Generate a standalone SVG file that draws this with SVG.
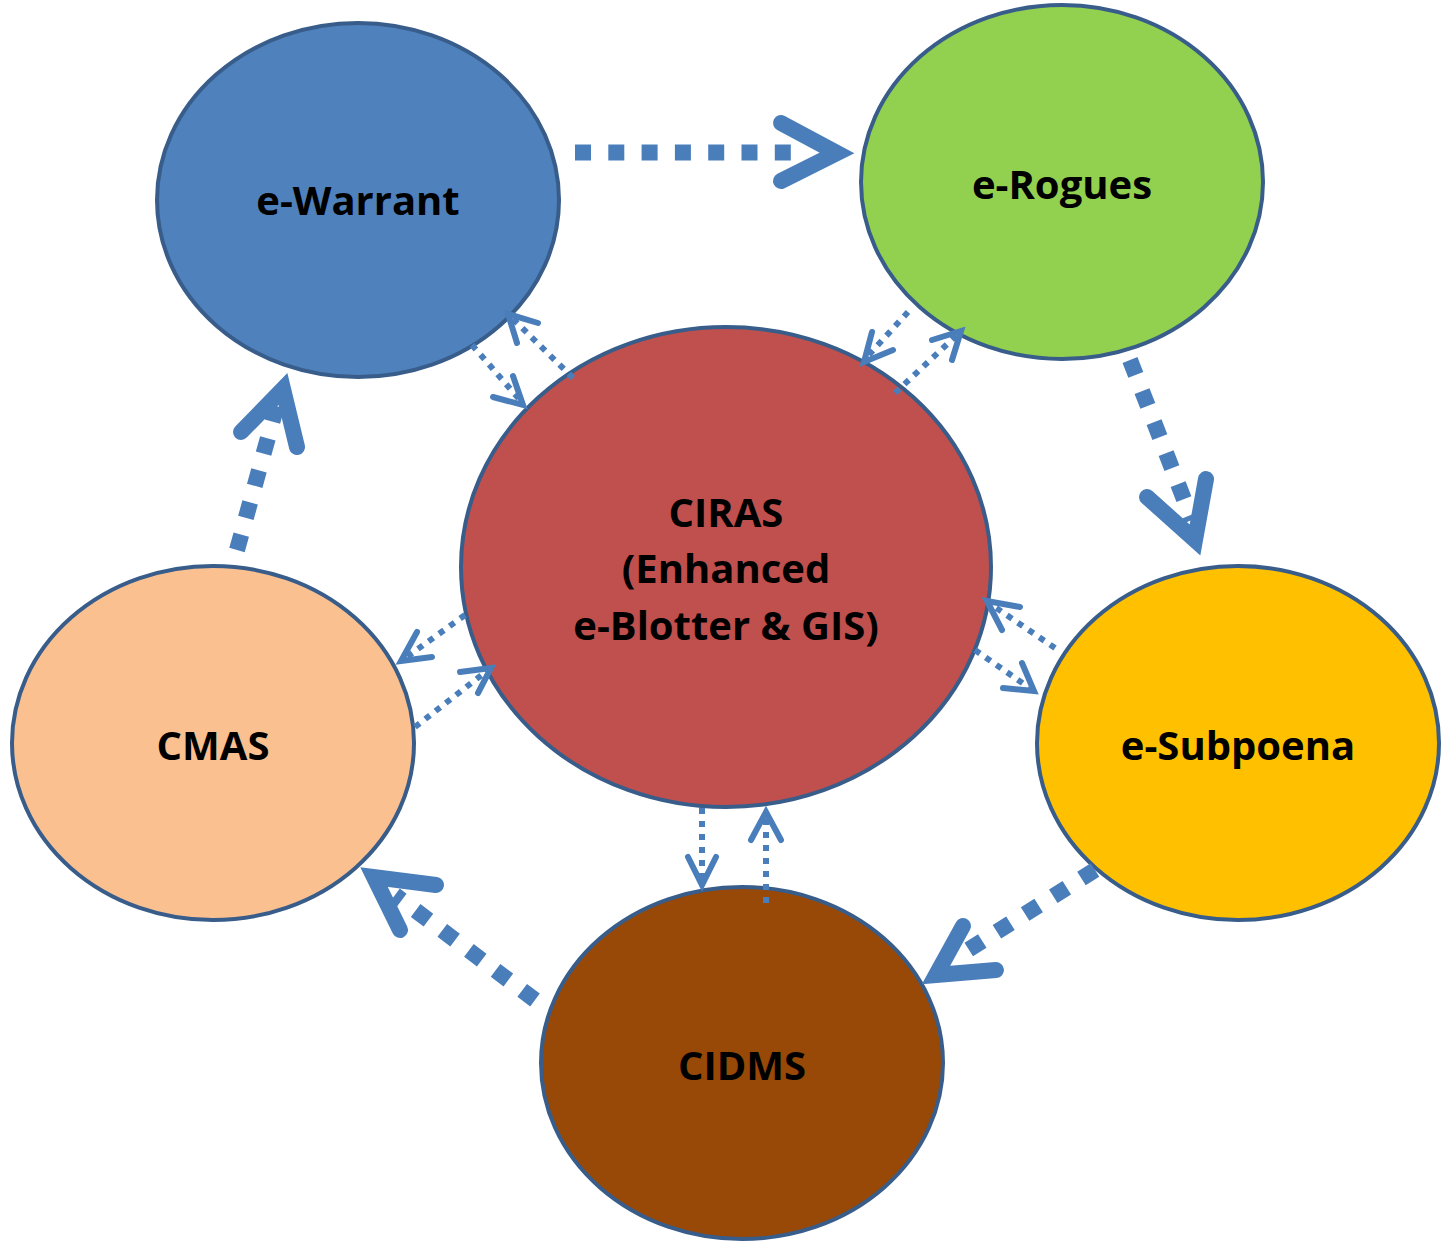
<svg xmlns="http://www.w3.org/2000/svg" width="1441" height="1241" viewBox="0 0 1441 1241">
<style>
.node{stroke:#385D8A;stroke-width:4}
.lbl{font-family:"Open Sans","Noto Sans",sans-serif;font-weight:bold;font-size:40px;fill:#000;text-anchor:middle}
.big{fill:none;stroke:#4A7EBB;stroke-width:16;stroke-dasharray:16 17.3}
.bighead{fill:none;stroke:#4A7EBB;stroke-width:16;stroke-linecap:round;stroke-linejoin:miter}
.sm{fill:none;stroke:#4A7EBB;stroke-width:6;stroke-dasharray:6 7}
.smhead{fill:none;stroke:#4A7EBB;stroke-width:6;stroke-linecap:round;stroke-linejoin:miter}
</style>
<rect width="1441" height="1241" fill="#fff"/>
<g id="e-warrant"><ellipse class="node" cx="358" cy="200" rx="201" ry="177" fill="#4F81BD"/><text class="lbl" x="358" y="215">e-Warrant</text></g>
<g id="e-rogues"><ellipse class="node" cx="1062" cy="182" rx="201" ry="177" fill="#92D050"/><text class="lbl" x="1062" y="199">e-Rogues</text></g>
<g id="ciras"><ellipse class="node" cx="726" cy="567" rx="265" ry="240" fill="#C0504D"/><text class="lbl" x="726" y="527">CIRAS</text><text class="lbl" x="726" y="583">(Enhanced</text><text class="lbl" x="726" y="640">e-Blotter &amp; GIS)</text></g>
<g id="cmas"><ellipse class="node" cx="213" cy="743" rx="201" ry="177" fill="#FAC090"/><text class="lbl" x="213" y="760">CMAS</text></g>
<g id="e-subpoena"><ellipse class="node" cx="1238" cy="743" rx="201" ry="177" fill="#FFC000"/><text class="lbl" x="1238" y="760">e-Subpoena</text></g>
<g id="cidms"><ellipse class="node" cx="742" cy="1063" rx="201" ry="176" fill="#984807"/><text class="lbl" x="742" y="1080">CIDMS</text></g>
<g id="connectors">
<line class="big" x1="575" y1="152.5" x2="800" y2="152.5"/>
<polyline class="bighead" points="781,123 837,153 781,181"/>
<line class="big" x1="1130" y1="360" x2="1192" y2="520"/>
<polyline class="bighead" points="1147,497 1195,540 1206,479"/>
<line class="big" x1="1095" y1="870" x2="960" y2="955"/>
<polyline class="bighead" points="963,926 936,975 996,970"/>
<line class="big" x1="535" y1="1000" x2="395" y2="895"/>
<polyline class="bighead" points="400,930 374,877 436,885"/>
<line class="big" x1="237" y1="550" x2="277" y2="405"/>
<polyline class="bighead" points="241,432 283,389 297,447"/>
<line class="sm" x1="472" y1="345" x2="520" y2="400"/>
<polyline class="smhead" points="493,397 523,405 513,376"/>
<line class="sm" x1="573" y1="378" x2="512" y2="318"/>
<polyline class="smhead" points="538,323 508,314 517,343"/>
<line class="sm" x1="908" y1="312" x2="866" y2="358"/>
<polyline class="smhead" points="872,332 864,362 893,350"/>
<line class="sm" x1="895" y1="393" x2="958" y2="334"/>
<polyline class="smhead" points="932,340 961,331 952,360"/>
<line class="sm" x1="465" y1="615" x2="404" y2="659"/>
<polyline class="smhead" points="417,632 401,661 432,657"/>
<line class="sm" x1="415" y1="727" x2="488" y2="670"/>
<polyline class="smhead" points="460,672 491,668 478,693"/>
<line class="sm" x1="975" y1="650" x2="1031" y2="689"/>
<polyline class="smhead" points="1003,688 1034,691 1022,663"/>
<line class="sm" x1="1055" y1="648" x2="989" y2="603"/>
<polyline class="smhead" points="1020,607 987,601 1002,630"/>
<line class="sm" x1="702" y1="808" x2="702" y2="882"/>
<polyline class="smhead" points="688,857 702,885 716,857"/>
<line class="sm" x1="766" y1="903" x2="766" y2="815"/>
<polyline class="smhead" points="751,840 766,812 781,840"/>
</g>
</svg>
